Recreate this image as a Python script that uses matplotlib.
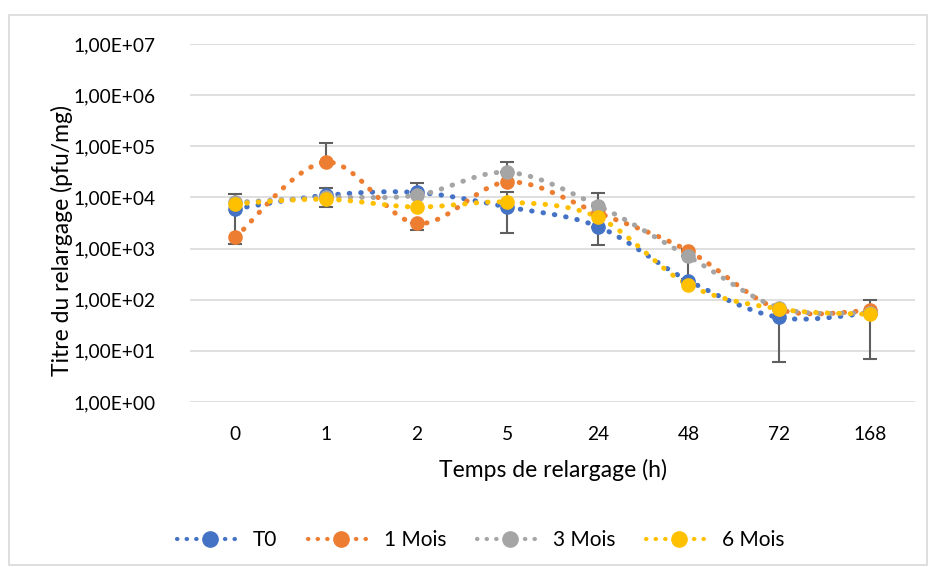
import matplotlib.pyplot as plt
import numpy as np
from matplotlib.lines import Line2D
from matplotlib.patches import Rectangle
from matplotlib.ticker import FixedLocator, FuncFormatter

plt.rcParams['font.family'] = ['Lato', 'DejaVu Sans']
plt.rcParams['font.size'] = 13.8

# data
times = ["0", "1", "2", "5", "24", "48", "72", "168"]
series_names = ["T0", "1 Mois", "3 Mois", "6 Mois"]
colors = ["#4472C4", "#ED7D31", "#A5A5A5", "#FFC000"]

t0 = [6000, 11000, 12500, 6500, 2700, 235, 45, 55]
m1 = [1650, 49000, 3100, 20000, 5000, 900, 65, 62]
m3 = [8000, 10000, 11000, 31000, 6900, 700, 70, 55]
m6 = [7500, 9200, 6500, 8100, 4100, 195, 66, 52]

# error bars (lower / upper distances)
t0_lo = [4750, 4500, 0, 4500, 1500, 0, 39, 0]
t0_hi = [5500, 4500, 6500, 6500, 0, 0, 0, 0]
m1_lo = [0, 0, 800, 0, 0, 0, 0, 0]
m1_hi = [0, 67000, 0, 0, 0, 100, 0, 0]
m3_lo = [0, 0, 0, 0, 0, 450, 0, 0]
m3_hi = [0, 0, 0, 18000, 5500, 0, 0, 0]
m6_lo = [0, 0, 0, 0, 0, 0, 0, 45]
m6_hi = [0, 0, 0, 0, 0, 0, 0, 48]

values = [t0, m1, m3, m6]
err_lo = [t0_lo, m1_lo, m3_lo, m6_lo]
err_hi = [t0_hi, m1_hi, m3_hi, m6_hi]


def smooth(xs, ys, n=20):
    # Catmull-Rom through the points, in log space (like Excel smoothed lines)
    ly = np.log10(ys)
    px = np.concatenate([[xs[0]], xs, [xs[-1]]])
    py = np.concatenate([[ly[0]], ly, [ly[-1]]])
    outx, outy = [], []
    for i in range(1, len(px) - 2):
        t = np.linspace(0, 1, n, endpoint=False)
        for p, out in ((px, outx), (py, outy)):
            p0, p1, p2, p3 = p[i - 1], p[i], p[i + 1], p[i + 2]
            out.extend(0.5 * ((2 * p1) + (-p0 + p2) * t
                              + (2 * p0 - 5 * p1 + 4 * p2 - p3) * t ** 2
                              + (-p0 + 3 * p1 - 3 * p2 + p3) * t ** 3))
    outx.append(xs[-1])
    outy.append(ly[-1])
    return np.array(outx), 10 ** np.array(outy)


fig = plt.figure(figsize=(9.3, 5.67), dpi=100)
ax = fig.add_axes([190 / 930, 1 - 402 / 567, 725 / 930, 358 / 567])
fig.patches.append(Rectangle((9 / 930, 0.004), 918 / 930, 1 - 15 / 567 - 0.004,
                             transform=fig.transFigure, fill=False,
                             edgecolor="#D9D9D9", linewidth=1.2))

x = np.arange(len(times))
dots = (0, (0.1, 2.2))

for vals, lo, hi, col in zip(values, err_lo, err_hi, colors):
    lo_arr = np.array(lo, dtype=float)
    hi_arr = np.array(hi, dtype=float)
    mask = (lo_arr > 0) | (hi_arr > 0)
    v = np.array(vals, dtype=float)
    ax.errorbar(x[mask], v[mask], yerr=[lo_arr[mask], hi_arr[mask]], fmt="none",
                ecolor="#5F5F5F", elinewidth=1.5, capsize=5, capthick=1.5, zorder=2)

for vals, col in zip(values, colors):
    sx, sy = smooth(x.astype(float), np.array(vals, dtype=float))
    ax.plot(sx, sy, color=col, linewidth=3.6, linestyle=dots,
            dash_capstyle="round", zorder=3)
    ax.plot(x, vals, linestyle="none", marker="o", markersize=9.5,
            color=col, zorder=4)

ax.set_yscale("log")
ax.set_ylim(1, 1e7)
ax.set_xlim(-0.5, len(times) - 0.5)
ax.yaxis.set_major_locator(FixedLocator([10.0 ** k for k in range(8)]))
ax.yaxis.set_minor_locator(FixedLocator([]))
ax.yaxis.set_major_formatter(FuncFormatter(
    lambda v, p: "1,00E+{:02d}".format(int(round(np.log10(v))))))
ax.set_xticks(x)
ax.set_xticklabels(times)
ax.tick_params(length=0, pad=25, axis="y")
ax.tick_params(length=0, pad=17, axis="x")
ax.grid(axis="y", color="#D9D9D9", linewidth=1.2)
ax.set_axisbelow(True)
for s in ax.spines.values():
    s.set_visible(False)

ax.set_ylabel("Titre du relargage (pfu/mg)", fontsize=16.5)
ax.yaxis.set_label_coords(-0.162, 0.45)
ax.set_xlabel("Temps de relargage (h)", fontsize=16.5, labelpad=12)

handles = [Line2D([0], [0], color=c, linewidth=3.0, linestyle=dots,
                  dash_capstyle="round", marker="o", markersize=11)
           for c in colors]
fig.legend(handles, series_names, loc="center", bbox_to_anchor=(0.517, 1 - 540 / 567),
           ncol=4, frameon=False, handlelength=3.17, columnspacing=1.45,
           handletextpad=0.5, fontsize=15)

fig.savefig("out.png", dpi=100)
